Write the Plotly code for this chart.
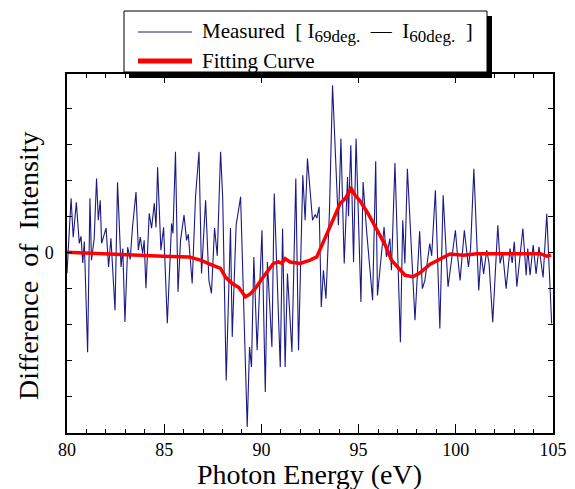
import plotly.graph_objects as go

# ---------------- data ----------------
energy_measured = [
    80.00, 80.21, 80.32, 80.48, 80.63, 80.72, 80.81, 80.89, 81.06, 81.18,
    81.26, 81.40, 81.52, 81.61, 81.71, 81.78, 82.01, 82.14, 82.26, 82.47,
    82.60, 82.78, 82.87, 82.98, 83.12, 83.25, 83.37, 83.55, 83.67, 83.77,
    83.89, 83.97, 84.06, 84.23, 84.35, 84.49, 84.58, 84.66, 84.83, 84.97,
    85.16, 85.38, 85.45, 85.58, 85.71, 85.84, 86.02, 86.15, 86.24, 86.44,
    86.61, 86.79, 86.92, 87.13, 87.30, 87.43, 87.59, 87.73, 87.90, 88.01,
    88.19, 88.41, 88.50, 88.70, 88.93, 89.27, 89.39, 89.49, 89.61, 89.78,
    90.03, 90.20, 90.31, 90.54, 90.66, 90.97, 91.09, 91.22, 91.34, 91.57,
    91.77, 91.91, 92.13, 92.25, 92.37, 92.63, 92.77, 92.85, 92.97, 93.08,
    93.19, 93.32, 93.50, 93.66, 93.96, 94.09, 94.26, 94.43, 94.48, 94.60,
    94.74, 94.87, 95.12, 95.23, 95.41, 95.72, 95.88, 95.97, 96.31, 96.43,
    96.61, 96.69, 96.87, 97.15, 97.27, 97.38, 97.51, 97.90, 98.14, 98.28,
    98.41, 98.66, 98.76, 98.95, 99.18, 99.35, 99.60, 99.71, 99.98, 100.08,
    100.22, 100.44, 100.65, 100.76, 100.93, 101.18, 101.30, 101.43, 101.59, 101.71,
    101.90, 102.16, 102.28, 102.41, 102.59, 102.79, 102.90, 103.01, 103.14, 103.45,
    103.62, 103.70, 103.82, 103.98, 104.13, 104.28, 104.49, 104.68, 104.93,
]
diff_measured = [
    -0.58, 1.50, 0.42, 1.39, 0.25, 0.44, -0.30, 0.30, -2.78, 1.50,
    -0.22, 0.39, 2.05, 0.89, 1.44, 0.25, 0.67, -0.41, 0.39, -1.61,
    1.94, -0.41, 0.10, -1.94, 0.14, -0.20, 0.70, 1.67, 0.06, 0.42,
    -0.03, 0.33, -1.00, 1.08, 0.67, 1.36, 0.69, 2.36, 0.06, 0.69,
    -1.97, 0.80, 0.52, 2.79, -1.10, 0.33, 1.03, 0.33, 0.50, -0.87,
    1.54, 2.79, -0.59, 1.44, -0.78, -1.14, 0.67, -0.10, 2.79, 1.50,
    -3.56, 0.67, -2.35, 0.75, 1.54, -4.85, -2.63, -3.19, -0.13, -2.72,
    0.61, -3.88, -0.27, -2.63, 1.63, -3.19, 0.66, -3.19, -0.59, -2.77,
    2.05, -2.72, 2.14, 0.89, 2.60, 0.89, 1.05, 0.95, 1.26, -1.52,
    -0.50, -1.29, 1.12, 4.64, 0.75, 3.16, -0.31, 2.09, 1.00, 2.97,
    -0.27, 3.16, -1.38, 1.95, 0.60, -1.33, 2.53, -1.20, 0.70, -0.13,
    0.38, -0.50, 2.48, -2.50, 0.89, -0.31, 2.32, -1.89, 0.58, -1.01,
    -0.78, 0.24, -0.10, 1.72, -2.12, 1.58, -0.96, -0.50, 0.61, -0.04,
    -0.78, 0.61, -0.41, 0.10, 2.32, -1.06, -0.04, -0.60, 0.06, -0.30,
    -1.94, 0.75, -0.31, 0.00, -1.01, 0.10, -0.30, 0.29, -0.96, 0.66,
    -0.64, 0.10, -0.64, 0.20, -0.60, 0.15, -0.70, 1.07, -1.98,
]

energy_fit = [
    80.00, 81.57, 83.29, 84.95, 86.27, 86.87, 87.47, 87.90, 88.15, 88.50,
    88.84, 89.18, 89.44, 89.70, 90.01, 90.28, 90.62, 90.88, 91.05, 91.22,
    91.48, 91.99, 92.51, 92.85, 93.11, 93.37, 93.71, 94.05, 94.31, 94.62,
    94.82, 95.08, 95.49, 96.01, 96.37, 96.69, 97.03, 97.39, 97.80, 98.16,
    98.68, 99.19, 99.70, 100.39, 101.08, 102.11, 103.31, 104.34, 104.68, 104.90,
]
diff_fit = [
    0.00, -0.04, -0.08, -0.11, -0.13, -0.22, -0.36, -0.45, -0.69, -0.87,
    -0.98, -1.24, -1.15, -1.00, -0.75, -0.55, -0.31, -0.27, -0.31, -0.18,
    -0.27, -0.31, -0.22, -0.13, 0.19, 0.52, 0.98, 1.35, 1.49, 1.77,
    1.58, 1.42, 1.07, 0.56, 0.20, -0.22, -0.41, -0.64, -0.68, -0.57,
    -0.33, -0.20, -0.05, -0.08, -0.04, -0.04, -0.04, -0.04, -0.11, -0.08,
]

x_tick_vals = [80, 85, 90, 95, 100, 105]
x_tick_text = ["80", "85", "90", "95", "100", "105"]
y_tick_vals = [-4, -3, -2, -1, 0, 1, 2, 3, 4]
y_tick_text = ["", "", "", "", "0", "", "", "", ""]

legend_measured = ("Measured\u00a0\u00a0[\u00a0I<sub><span style='font-size:17px'>69deg.</span></sub>"
                   "\u00a0\u00a0—\u00a0\u00a0"
                   "I<sub><span style='font-size:17px'>60deg.</span></sub>\u00a0\u00a0]")
legend_fit = "Fitting Curve"
x_title = "Photon Energy (eV)"
y_title = "Difference\u00a0\u00a0of\u00a0\u00a0Intensity"

# ---------------- layout geometry ----------------
W, H = 575, 489
ML, MR, MT, MB = 67, 22, 74, 56
PW = W - ML - MR
PH = H - MT - MB

def px_x(px):
    return (px - ML) / PW

def px_y(py):
    return (H - MB - py) / PH

SERIF = "Liberation Serif, Times New Roman, serif"
NAVY = "#1a1a85"
RED = "#ff0000"

fig = go.Figure()
fig.add_trace(go.Scatter(x=energy_measured, y=diff_measured, mode="lines",
                         line=dict(color=NAVY, width=1.1), name="Measured",
                         showlegend=False))
fig.add_trace(go.Scatter(x=energy_fit, y=diff_fit, mode="lines",
                         line=dict(color=RED, width=3.5), name="Fitting Curve",
                         showlegend=False))

axis_common = dict(showgrid=False, zeroline=False, showline=True, linecolor="black",
                   linewidth=1.5, mirror="ticks", ticks="inside", tickcolor="black",
                   tickwidth=1, automargin=False,
                   tickfont=dict(family=SERIF, size=18, color="black"))

fig.update_xaxes(range=[80, 105], tickvals=x_tick_vals, ticktext=x_tick_text,
                 ticklen=9, minor=dict(dtick=1, ticks="inside", ticklen=4,
                                       tickcolor="black", tickwidth=1),
                 **axis_common)
fig.update_yaxes(range=[-5.02, 4.95], tickvals=y_tick_vals, ticktext=y_tick_text,
                 ticklen=5, ticklabelstandoff=8, **axis_common)

shapes = []
annotations = []
# legend shadow and box
shapes.append(dict(type="rect", xref="paper", yref="paper", layer="above",
                   x0=px_x(129), x1=px_x(492), y0=px_y(78), y1=px_y(16),
                   fillcolor="black", line=dict(width=0)))
shapes.append(dict(type="rect", xref="paper", yref="paper", layer="above",
                   x0=px_x(124), x1=px_x(487), y0=px_y(72), y1=px_y(11),
                   fillcolor="white", line=dict(color="black", width=1)))
shapes.append(dict(type="line", xref="paper", yref="paper", layer="above",
                   x0=px_x(138), x1=px_x(192), y0=px_y(32), y1=px_y(32),
                   line=dict(color=NAVY, width=1)))
shapes.append(dict(type="line", xref="paper", yref="paper", layer="above",
                   x0=px_x(138), x1=px_x(192), y0=px_y(61), y1=px_y(61),
                   line=dict(color=RED, width=5)))
annotations.append(dict(xref="paper", yref="paper", x=px_x(200), y=px_y(32),
                        xanchor="left", yanchor="middle", showarrow=False,
                        text=legend_measured,
                        font=dict(family=SERIF, size=21, color="black")))
annotations.append(dict(xref="paper", yref="paper", x=px_x(200), y=px_y(61),
                        xanchor="left", yanchor="middle", showarrow=False,
                        text=legend_fit,
                        font=dict(family=SERIF, size=21, color="black")))
# axis titles
annotations.append(dict(xref="paper", yref="paper", x=px_x(309.5), y=px_y(474),
                        xanchor="center", yanchor="middle", showarrow=False,
                        text=x_title, font=dict(family=SERIF, size=28, color="black")))
annotations.append(dict(xref="paper", yref="paper", x=px_x(28), y=px_y(266),
                        xanchor="center", yanchor="middle", showarrow=False,
                        textangle=-90, text=y_title,
                        font=dict(family=SERIF, size=28, color="black")))

fig.update_layout(width=W, height=H, margin=dict(l=ML, r=MR, t=MT, b=MB),
                  paper_bgcolor="white", plot_bgcolor="white",
                  shapes=shapes, annotations=annotations, showlegend=False)

fig.write_html("out.html", config={"displayModeBar": False},
               post_script="document.body.style.margin='0';document.body.style.overflow='hidden';")
